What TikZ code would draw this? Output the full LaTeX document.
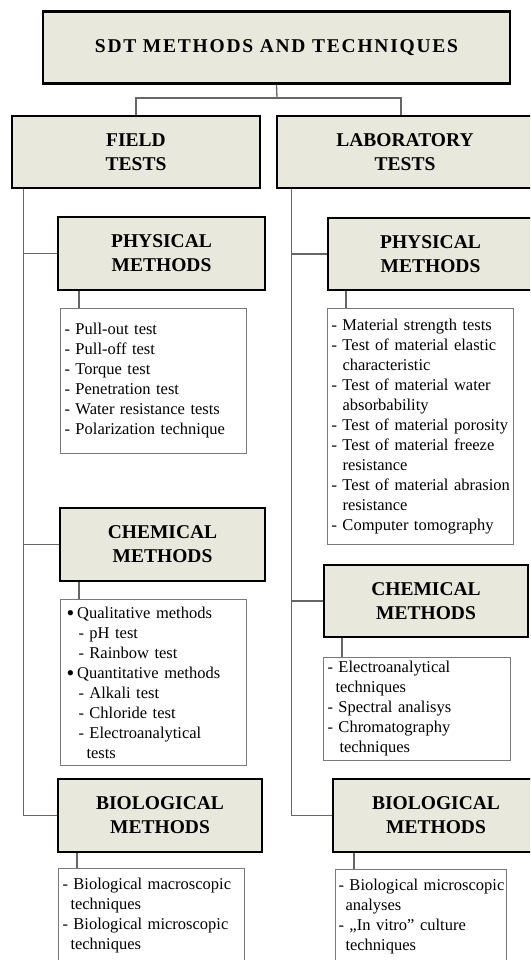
\documentclass[tikz,border=0pt]{standalone}
\usepackage{fontspec}
\setmainfont{Liberation Serif}
\definecolor{hdrfill}{HTML}{E8E8DC}
\definecolor{linegray}{HTML}{666666}
\definecolor{boxgray}{HTML}{7A7A7A}
\newcommand{\cont}[1]{\hspace*{#1pt}}
\newcommand{\bigdot}{\raisebox{-2.5pt}{\fontsize{22}{20}\selectfont•}}

\tikzset{
  hdr/.style={draw=black, line width=2.4pt, fill=hdrfill, align=center,
    font=\bfseries\fontsize{19.5}{24}\selectfont, minimum height=72pt, inner sep=0pt},
  lst/.style={draw=boxgray, line width=1pt, fill=white, align=left, anchor=north west,
    font=\fontsize{16.5}{20}\selectfont, inner xsep=4pt, inner ysep=0pt},
  conn/.style={draw=linegray, line width=1.3pt},
}

\begin{document}
\begin{tikzpicture}[x=1pt,y=-1pt]
  \useasboundingbox (0,0) rectangle (530,960);
  \clip (0,0) rectangle (530,960);

  % headers
  \node[hdr, minimum width=467pt, font=\bfseries\fontsize{19.5}{24}\selectfont\addfontfeature{LetterSpace=9}]
    (sdt) at (276.5,47.5) {SDT METHODS AND TECHNIQUES};
  \node[hdr, minimum width=248pt] (field) at (136,152) {FIELD\\TESTS};
  \node[hdr, minimum width=256pt] (lab) at (405,152) {LABORATORY\\TESTS};

  \node[hdr, minimum width=207pt, minimum height=73pt] (lphys) at (161.5,253.5) {PHYSICAL\\METHODS};
  \node[hdr, minimum width=205pt, minimum height=73pt] (lchem) at (162.5,544.5) {CHEMICAL\\METHODS};
  \node[hdr, minimum width=204pt, minimum height=73pt] (lbio) at (160,815.5) {BIOLOGICAL\\METHODS};

  \node[hdr, minimum width=205pt] (rphys) at (430.5,254) {PHYSICAL\\METHODS};
  \node[hdr, minimum width=204pt] (rchem) at (426,601) {CHEMICAL\\METHODS};
  \node[hdr, minimum width=206pt, minimum height=73pt] (rbio) at (436,815.5) {BIOLOGICAL\\METHODS};

  % lists
  \node[lst, text width=178pt, minimum height=145pt] (lphyslist) at (60,308) {%
    - Pull-out test\\
    - Pull-off test\\
    - Torque test\\
    - Penetration test\\
    - Water resistance tests\\
    - Polarization technique};
  \node[lst, text width=178pt, minimum height=166pt] (lchemlist) at (60,599) {%
    \cont{2}\bigdot\hspace{3pt}Qualitative methods\\
    \cont{14}- pH test\\
    \cont{14}- Rainbow test\\
    \cont{2}\bigdot\hspace{3pt}Quantitative methods\\
    \cont{14}- Alkali test\\
    \cont{14}- Chloride test\\
    \cont{14}- Electroanalytical\\
    \cont{22}tests};
  \node[lst, text width=178pt, minimum height=94pt] (lbiolist) at (58,868) {%
    \mbox{- Biological macroscopic}\\
    \cont{8}techniques\\
    \mbox{- Biological microscopic}\\
    \cont{8}techniques};

  \node[lst, text width=178pt, minimum height=236pt] (rphyslist) at (327,308) {%
    \mbox{- Material strength tests}\\
    \mbox{- Test of material elastic}\\
    \cont{11}characteristic\\
    \mbox{- Test of material water}\\
    \cont{11}absorbability\\
    \mbox{- Test of material porosity}\\
    \mbox{- Test of material freeze}\\
    \cont{11}resistance\\
    \mbox{- Test of material abrasion}\\
    \cont{11}resistance\\
    \mbox{- Computer tomography}};
  \node[lst, text width=179pt, minimum height=103pt] (rchemlist) at (323,657) {%
    - Electroanalytical\\
    \cont{8}techniques\\
    - Spectral analisys\\
    - Chromatography\\
    \cont{12}techniques};
  \node[lst, inner xsep=3pt, text width=165pt, minimum height=94pt] (rbiolist) at (335,869) {%
    \mbox{- Biological microscopic}\\
    \cont{7}analyses\\
    \mbox{- „In vitro” culture}\\
    \cont{7}techniques};

  % connectors
  \coordinate (split) at (277,98);
  \coordinate (labtop) at ([xshift=-4pt]lab.north);
  \draw[conn] (sdt.south) -- (split);
  \draw[conn] (field.north) |- (split) -| (labtop);

  \coordinate (ltrunk) at ([xshift=13pt]field.south west);
  \coordinate (rtrunk) at ([xshift=16pt]lab.south west);
  \draw[conn] (ltrunk) |- (lbio.west);
  \draw[conn] (ltrunk |- lphys.west) -- (lphys.west);
  \draw[conn] (ltrunk |- lchem.west) -- (lchem.west);
  \draw[conn] (rtrunk) |- (rbio.west);
  \draw[conn] (rtrunk |- rphys.west) -- (rphys.west);
  \draw[conn] (rtrunk |- rchem.west) -- (rchem.west);

  \foreach \t/\l in {lphys/lphyslist, lchem/lchemlist, lbio/lbiolist,
                     rphys/rphyslist, rchem/rchemlist, rbio/rbiolist}
    \draw[conn] (\l.north west) ++(19,0) coordinate (c) -- (c |- \t.south);
\end{tikzpicture}
\end{document}
